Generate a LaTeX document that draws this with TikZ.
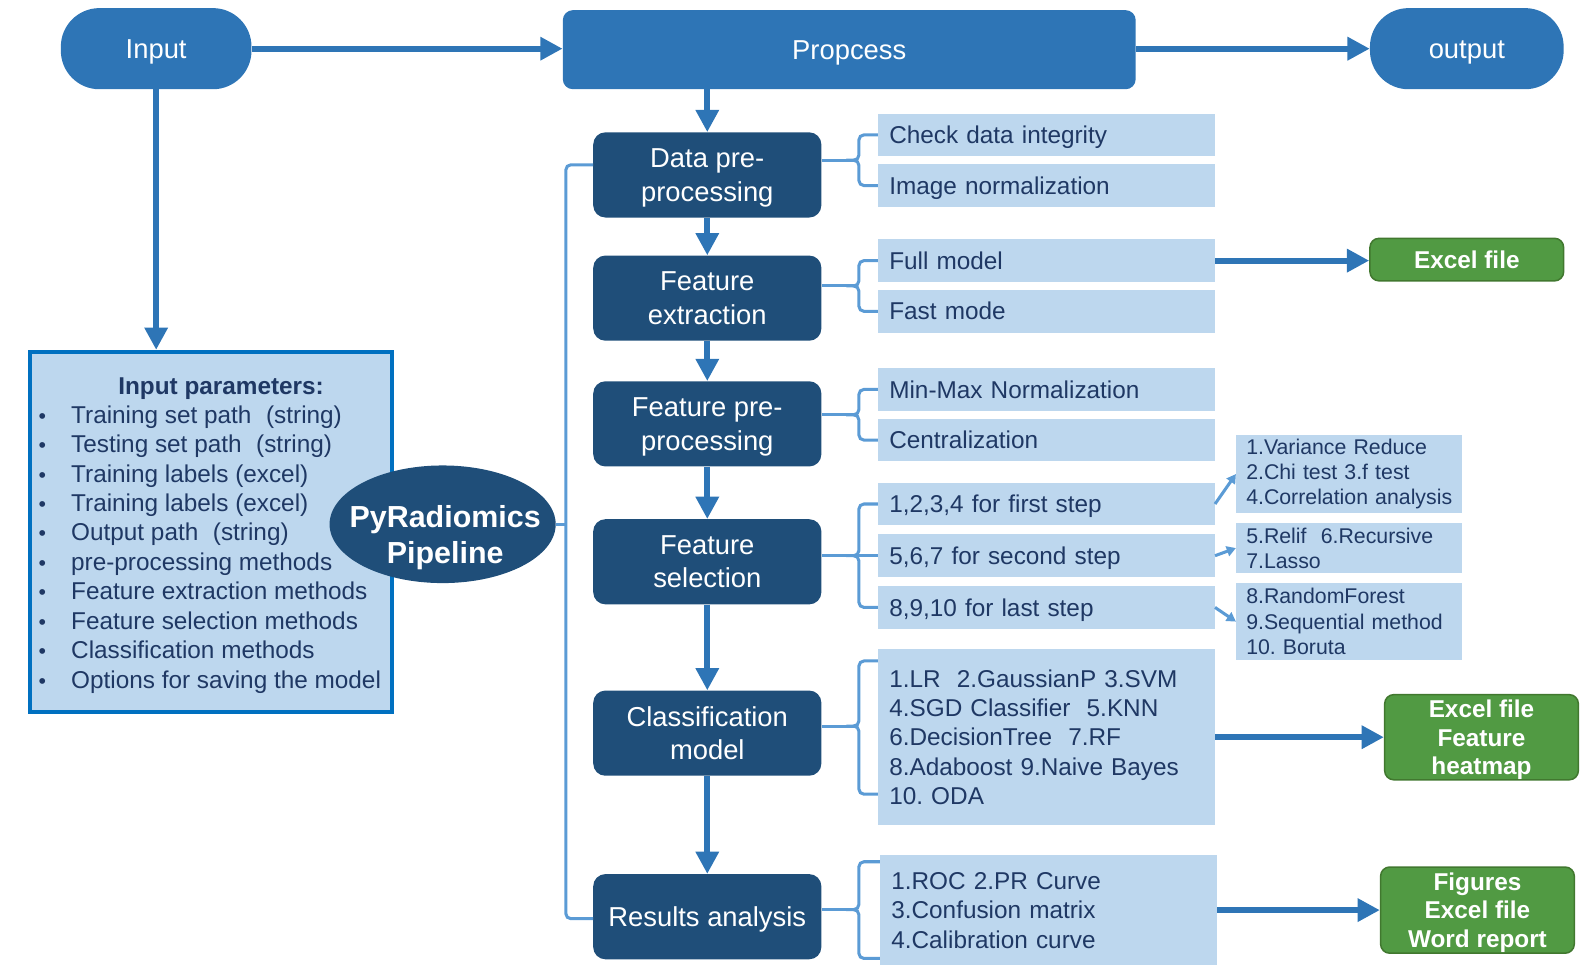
\documentclass[tikz,border=0pt]{standalone}
\usepackage{fontspec}
\setmainfont{Liberation Sans}
\usetikzlibrary{arrows.meta,shapes.geometric,calc}
\definecolor{topblue}{HTML}{2E75B6}
\definecolor{darkblue}{HTML}{1F4E79}
\definecolor{lightblue}{HTML}{BDD7EE}
\definecolor{midblue}{HTML}{5B9BD5}
\definecolor{navy}{HTML}{1F3864}
\definecolor{paramborder}{HTML}{0070C0}
\definecolor{grfill}{HTML}{519A43}
\definecolor{grborder}{HTML}{41782F}
\begin{document}
\frenchspacing
\begin{tikzpicture}[x=1pt,y=-1pt,
 pill/.style={fill=topblue, rounded corners=38pt, minimum width=188pt, minimum height=80pt, text=white, font=\fontsize{27}{33}\selectfont, inner sep=0pt, text height=19.5pt, text depth=0pt},
 stage/.style={fill=darkblue, rounded corners=12pt, minimum width=225pt, minimum height=84pt, text=white, align=center, font=\fontsize{27}{33}\selectfont, inner sep=0pt, text depth=0pt},
 item/.style={fill=lightblue, minimum width=332pt, minimum height=42pt, text width=310pt, inner xsep=11pt, inner ysep=0pt, align=left, text=navy, font=\fontsize{24}{29}\selectfont},
 single/.style={text height=17pt, text depth=0pt},
 subbox/.style={fill=lightblue, minimum width=223pt, text width=203pt, inner xsep=10pt, inner ysep=0pt, align=left, text=navy, font=\fontsize{21}{25}\selectfont},
 outbox/.style={fill=grfill, draw=grborder, line width=1.5pt, rounded corners=9pt, minimum width=191pt, text=white, align=center, font=\bfseries\fontsize{24}{28.5}\selectfont, inner sep=0pt, text depth=0pt},
 arr/.style={draw=topblue, line width=6pt, -{Triangle[length=22pt,width=22pt]}},
 brace/.style={draw=midblue, line width=3pt, rounded corners=5pt},
 thinarr/.style={draw=midblue, line width=3pt, -{Triangle[length=9pt,width=10pt]}},
 plist/.style={anchor=west, text=navy, font=\fontsize{24}{29}\selectfont, text height=17pt, text depth=0pt, inner sep=0pt}
]
\useasboundingbox (0,0) rectangle (1568,951);

% top row
\node[pill] (in) at (154,48) {Input};
\node[fill=topblue, rounded corners=10pt, minimum width=565pt, minimum height=78pt, text=white, font=\fontsize{27}{33}\selectfont, inner sep=0pt, text height=19.5pt, text depth=0pt] (proc) at (837.5,49) {Propcess};
\node[pill, minimum width=191pt] (out) at (1446.5,48) {output};

% stages
\node[stage] (dp) at (697.5,172.5) {Data pre-\\processing};
\node[stage] (fe) at (697.5,294) {Feature\\extraction};
\node[stage] (fp) at (697.5,418) {Feature pre-\\processing};
\node[stage] (fs) at (697.5,554) {Feature\\selection};
\node[stage] (cm) at (697.5,723) {Classification\\model};
\node[stage, text height=19.5pt] (ra) at (697.5,904) {Results analysis};

% light items
\node[item,single] (cdi) at (1032,133) {Check data integrity};
\node[item,single] (imn) at (1032,183) {Image normalization};
\node[item,single] (fm) at (1032,257) {Full model};
\node[item,single] (fst) at (1032,307) {Fast mode};
\node[item,single] (mm) at (1032,384) {Min-Max Normalization};
\node[item,single] (cz) at (1032,434) {Centralization};
\node[item,single] (s1) at (1032,497) {1,2,3,4 for first step};
\node[item,single] (s2) at (1032,548) {5,6,7 for second step};
\node[item,single] (s3) at (1032,599) {8,9,10 for last step};
\node[item, minimum height=174pt] (cl) at (1032,727) {1.LR\ \ 2.GaussianP 3.SVM\\4.SGD Classifier\ \ 5.KNN\\6.DecisionTree\ \ 7.RF\\8.Adaboost 9.Naive Bayes\\10. ODA};
\node[item, minimum height=110pt] (rl) at (1034,898) {1.ROC 2.PR Curve\\3.Confusion matrix\\4.Calibration curve};

% sub boxes
\node[subbox, minimum height=77pt] (v1) at (1330.5,467.5) {\mbox{1.Variance Reduce}\\\mbox{2.Chi test 3.f test}\\\mbox{4.Correlation analysis}};
\node[subbox, minimum height=49pt] (v2) at (1330.5,540.5) {\mbox{5.Relif\ \ 6.Recursive}\\\mbox{7.Lasso}};
\node[subbox, minimum height=76pt] (v3) at (1330.5,613) {\mbox{8.RandomForest}\\\mbox{9.Sequential method}\\\mbox{10. Boruta}};

% outputs
\node[outbox, minimum height=42pt, text height=17pt] (x1) at (1446.5,256) {Excel file};
\node[outbox, minimum height=84pt] (x2) at (1461,727) {Excel file\\Feature\\heatmap};
\node[outbox, minimum height=85pt] (x3) at (1457,897.5) {Figures\\Excel file\\Word report};

% input parameters
\node[fill=lightblue, draw=paramborder, line width=4pt, minimum width=357pt, minimum height=355pt, inner sep=0pt] (par) at (208.5,524.5) {};
\node[text=navy, font=\bfseries\fontsize{24}{29}\selectfont, text height=17pt, text depth=0pt, inner sep=0pt] (pt) at (218,381) {Input parameters:};
\foreach \t [count=\i] in {Training set path\hspace{0.6em}(string), Testing set path\hspace{0.6em}(string), Training labels (excel), Training labels (excel), Output path\hspace{0.6em}(string), pre-processing methods, Feature extraction methods, Feature selection methods, Classification methods, Options for saving the model}
  \node[plist] (p\i) at (38,380+29*\i) {\makebox[32pt][l]{\fontsize{21}{21}\selectfont\textbullet}\t};

\node[ellipse, fill=darkblue, minimum width=223pt, minimum height=116pt, inner sep=0pt] (py) at (436.5,517) {};
\node[text=white, align=center, font=\bfseries\fontsize{30}{36}\selectfont, inner sep=0pt, text depth=0pt] (pyt) at (439,527) {PyRadiomics\\Pipeline};

% main arrows
\draw[arr] (in.east) -- (in.east -| proc.west);
\draw[arr] (proc.east |- out.west) -- (out.west);
\draw[arr] (in.south) -- (in.south |- par.north);
\draw[arr] (proc.south -| dp.north) -- (dp.north);
\draw[arr] (dp.south) -- (fe.north);
\draw[arr] (fe.south) -- (fp.north);
\draw[arr] (fp.south) -- (fs.north);
\draw[arr] (fs.south) -- (cm.north);
\draw[arr] (cm.south) -- (ra.north);
\draw[arr] (fm.east) -- (fm.east -| x1.west);
\draw[arr] (cl.east |- x2.west) -- (x2.west);
\draw[arr] (rl.east |- x3.west) -- (x3.west);

% left bracket
\coordinate (lb) at (558,906);
\draw[brace] ([yshift=10pt]dp.west) -| (lb) -- (lb -| ra.west);
\draw[brace] (py.east) -- (py.east -| lb);

% braces
\coordinate (b1) at (843,158);
\draw[brace] (dp.east |- b1) -- (b1);
\draw[brace] (cdi.west) -| ([xshift=4pt]b1) -- (b1);
\draw[brace] (imn.west) -| ([xshift=4pt]b1) -- (b1);
\coordinate (b2) at (843,282);
\draw[brace] (fe.east |- b2) -- (b2);
\draw[brace] (fm.west) -| ([xshift=4pt]b2) -- (b2);
\draw[brace] (fst.west) -| ([xshift=4pt]b2) -- (b2);
\coordinate (b3) at (843,409);
\draw[brace] (fp.east |- b3) -- (b3);
\draw[brace] (mm.west) -| ([xshift=4pt]b3) -- (b3);
\draw[brace] (cz.west) -| ([xshift=4pt]b3) -- (b3);
\coordinate (b4) at (843,548);
\draw[brace] (fs.east |- b4) -- (b4);
\draw[brace] (s1.west) -| ([xshift=4pt]b4) -- (b4);
\draw[brace] (s2.west) -- (b4);
\draw[brace] (s3.west) -| ([xshift=4pt]b4) -- (b4);
\coordinate (b5) at (843,716);
\draw[brace] (cm.east |- b5) -- (b5);
\draw[brace] ([yshift=-12pt]cl.north west) -| ([xshift=4pt]b5) -- (b5);
\draw[brace] ([yshift=31pt]cl.south west) -| ([xshift=4pt]b5) -- (b5);
\coordinate (b6) at (843,897);
\draw[brace] (ra.east |- b6) -- (b6);
\draw[brace] ([yshift=-7pt]rl.north west) -| ([xshift=4pt]b6) -- (b6);
\draw[brace] ([yshift=8pt]rl.south west) -| ([xshift=4pt]b6) -- (b6);

% small arrows
\draw[thinarr] (s1.east) -- (v1.west);
\draw[thinarr] (s2.east) -- (v2.west);
\draw[thinarr] (s3.east) -- (v3.west);
\end{tikzpicture}
\end{document}
